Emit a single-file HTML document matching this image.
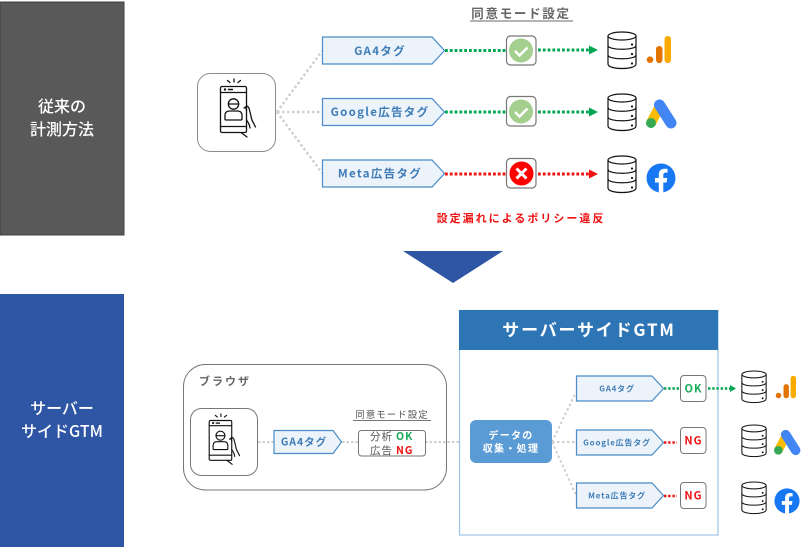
<!DOCTYPE html>
<html><head><meta charset="utf-8"><style>
html,body{margin:0;padding:0;background:#fff;width:811px;height:547px;overflow:hidden}
svg{display:block}
text{font-family:"Noto Sans CJK JP","Liberation Sans",sans-serif;font-weight:700}
</style></head><body>
<svg width="811" height="547" viewBox="0 0 811 547" xmlns="http://www.w3.org/2000/svg">
<defs>
<symbol id="phone" viewBox="0 0 40 60" overflow="visible">
<g fill="none" stroke="#111" stroke-width="1.300" stroke-linecap="round" stroke-linejoin="round">
<path d="M13 3.500l-2.500-2M17 3V0M21 3.500l2.500-2"/>
<rect x="3.500" y="7.500" width="26" height="46" rx="1.500"/>
<path d="M3.500 13.500H29.500M3.500 47.500H29.500"/>
<circle cx="16.500" cy="25" r="5.200"/><path d="M12 25h9"/>
<path d="M8 40v-3.500q0-4.500 4.500-4.500h8q4.500 0 4.500 4.500v3.500q0 1-1 1H9q-1 0-1-1z"/>
<path d="M27 29l3-2q2 1 2.500 4l1.500 6q0.500 4 2.500 7l2 4M29.500 31l-1-3M29.500 41q3 4 3.500 8M24 53.500l6 4.500"/>
</g>
<circle cx="8" cy="10.500" r="1.200" fill="#111"/><path d="M11 10.500h5" stroke="#111" stroke-width="1.500"/>
</symbol>
<symbol id="db" viewBox="0 0 30 39" overflow="visible">
<g fill="#fff" stroke="#111" stroke-width="1.200">
<path d="M1 5v28c0 6 28 6 28 0V5"/>
<ellipse cx="15" cy="5" rx="14" ry="4"/>
<path d="M1 14.500c0 5 28 5 28 0M1 24c0 5 28 5 28 0" fill="none"/>
</g>
<circle cx="25" cy="13.500" r="1.100" fill="#111"/><circle cx="25" cy="23" r="1.100" fill="#111"/><circle cx="25" cy="32.500" r="1.100" fill="#111"/>
</symbol>
<symbol id="ga" viewBox="0 0 24 27" overflow="visible">
<circle cx="3" cy="23.700" r="3.300" fill="#E37400"/>
<rect x="9" y="10" width="6.500" height="17" rx="3.200" fill="#E37400"/>
<rect x="17.500" y="0" width="6.500" height="27" rx="3.200" fill="#F9AB00"/>
</symbol>
<symbol id="ads" viewBox="0 0 30 28" overflow="visible">
<path d="M5 23L14 6" stroke="#FBBC04" stroke-width="10" stroke-linecap="butt"/>
<path d="M13.500 5L25 23" stroke="#4285F4" stroke-width="11" stroke-linecap="round"/>
<circle cx="5" cy="23" r="5" fill="#34A853"/>
</symbol>
<symbol id="fb" viewBox="0 0 30 30" overflow="visible">
<circle cx="15" cy="15" r="14.500" fill="#1877F2"/>
<path d="M12.800 29.500V19.500H9V15h3.800v-3.500c0-3.800 2.300-5.800 5.700-5.800 1.600 0 3 .2 3 .2v3.700h-1.800c-1.900 0-2.400 1.100-2.400 2.300V15h4l-.7 4.500h-3.300v10z" fill="#fff"/>
</symbol>
</defs>

<rect x="0" y="2" width="124" height="233" fill="#595959" stroke="#404040"/>
<rect x="0" y="294" width="124" height="253" fill="#2F55A5"/>
<g fill="#fff" font-size="16" text-anchor="middle">
<text x="62" y="112" style="font-weight:500">従来の</text><text x="62" y="135" style="font-weight:500">計測方法</text>
<text x="62" y="414" style="font-weight:500">サーバー</text><text x="62" y="437" style="font-weight:500">サイドGTM</text>
</g>
<path d="M403 251H503L453 283z" fill="#2F55A5"/>

<!-- top -->
<g stroke="#cfcfcf" stroke-width="2.500" stroke-dasharray="2.500 2.500" fill="none">
<path d="M277 112L322 51M277 112H322M277 112L322 173"/>
</g>
<rect x="197.500" y="73.500" width="78" height="78" rx="13" fill="#fff" stroke="#8c8c8c"/>
<use href="#phone" x="217" y="79" width="40" height="60"/>
<g fill="#EDF3FA" stroke="#4A8CC7" stroke-width="1.200">
<path d="M322.500 37H432L444.500 50.500 432 64H322.500z"/>
<path d="M322.500 98.500H432L444.500 112 432 125.500H322.500z"/>
<path d="M322.500 160H432L444.500 173.500 432 187H322.500z"/>
</g>
<g fill="#3F7DB8" font-size="11.500" text-anchor="middle" letter-spacing="1.300">
<text x="380" y="55">GA4タグ</text><text x="380" y="116">Google広告タグ</text><text x="380" y="177.500">Meta広告タグ</text>
</g>
<g stroke-width="3" stroke-dasharray="2.800 2" fill="none">
<path d="M445 50.500H506M538 50H590M445 112H506M538 112H590" stroke="#00A651"/>
<path d="M445 174H506M538 174H590" stroke="#EE1111"/>
</g>
<path d="M589 45.500L598 50 589 54.500zM589 107.500L598 112 589 116.500z" fill="#00A651"/>
<path d="M589 169.500L598 174 589 178.500z" fill="#EE1111"/>
<g fill="#fff" stroke="#777" stroke-width="1.200">
<rect x="506.500" y="36" width="29.500" height="29" rx="4"/><rect x="506.500" y="96.500" width="29.500" height="29.500" rx="4"/><rect x="506.500" y="158.500" width="29.500" height="29.500" rx="4"/>
</g>
<circle cx="521" cy="50.500" r="12" fill="#A5CF8E"/><circle cx="521" cy="111.500" r="12" fill="#A5CF8E"/><circle cx="521.500" cy="173.500" r="12" fill="#FF0000"/>
<path d="M515 51l4.500 4.500 8-8M515 112l4.500 4.500 8-8" fill="none" stroke="#fff" stroke-width="2.500"/>
<path d="M516.500 168.500l10 10m0-10l-10 10" fill="none" stroke="#fff" stroke-width="3"/>
<text x="521" y="18" text-anchor="middle" font-size="12.500" fill="#666" letter-spacing="1.700">同意モード設定</text>
<path d="M470 21H573" stroke="#888" stroke-width="1.200"/>
<text x="521" y="222" text-anchor="middle" font-size="11" fill="#EE1111" letter-spacing="2">設定漏れによるポリシー違反</text>
<use href="#db" x="607" y="31" width="30" height="39"/>
<use href="#db" x="607" y="93" width="30" height="39"/>
<use href="#db" x="607" y="155" width="30" height="39"/>
<use href="#ga" x="647" y="36" width="24" height="27"/>
<use href="#ads" x="646" y="100" width="30" height="28"/>
<use href="#fb" x="646" y="163" width="30" height="30"/>

<!-- browser -->
<rect x="183.500" y="364.500" width="263" height="125.500" rx="22" fill="#fff" stroke="#777"/>
<text x="199" y="385" font-size="11" fill="#666" letter-spacing="2">ブラウザ</text>
<rect x="190.500" y="408.500" width="67" height="67" rx="11" fill="#fff" stroke="#777"/>
<use href="#phone" x="206" y="414" width="35" height="52"/>
<g stroke="#cfcfcf" stroke-width="2" stroke-dasharray="2.500 2" fill="none">
<path d="M258 442H274M342 442H358M425 442H465"/>
</g>
<path d="M465 438L470 442 465 446z" fill="#cfcfcf"/>
<path d="M274 430.500H333L341.500 442 333 453.500H274z" fill="#EDF3FA" stroke="#4A8CC7" stroke-width="1.200"/>
<text x="304" y="445.500" text-anchor="middle" font-size="10.500" fill="#3F7DB8" letter-spacing="1">GA4タグ</text>
<text x="392" y="418" text-anchor="middle" font-size="9.500" style="font-weight:400" fill="#555" letter-spacing="1">同意モード設定</text>
<path d="M353 420.500H431" stroke="#777"/>
<rect x="358.500" y="430.500" width="67" height="25.500" rx="3" fill="#fff" stroke="#777"/>
<g font-size="10.500" letter-spacing="1">
<text x="370" y="440" fill="#555" style="font-weight:400">分析</text><text x="396" y="440" fill="#1BAA5A">OK</text>
<text x="370" y="454" fill="#555" style="font-weight:400">広告</text><text x="396" y="454" fill="#EE1111">NG</text>
</g>

<!-- server -->
<rect x="459.500" y="310.500" width="258.500" height="224.500" fill="#fff" stroke="#9DC3E6" stroke-width="1.200"/>
<rect x="459" y="310" width="259" height="40" fill="#2E75B6"/>
<text x="589" y="336" text-anchor="middle" font-size="17" fill="#fff" letter-spacing="1.800">サーバーサイドGTM</text>
<g stroke="#cfcfcf" stroke-width="2" stroke-dasharray="2.500 2.500" fill="none">
<path d="M552 442L576 392M552 442H576M552 442L576 495"/>
</g>
<rect x="470" y="420" width="82" height="43" rx="6" fill="#5B9BD5"/>
<g fill="#fff" font-size="10" text-anchor="middle" letter-spacing="1.300">
<text x="511" y="439">データの</text><text x="511" y="452">収集・処理</text>
</g>
<g fill="#EDF3FA" stroke="#4A8CC7" stroke-width="1.200">
<path d="M576.500 376H652L663.500 388.500 652 401H576.500z"/>
<path d="M576.500 430H652L663.500 442.500 652 455H576.500z"/>
<path d="M576.500 483H652L663.500 495.500 652 508H576.500z"/>
</g>
<g fill="#3F7DB8" font-size="8" text-anchor="middle" letter-spacing=".8">
<text x="617" y="391.500">GA4タグ</text><text x="617" y="445.500">Google広告タグ</text><text x="617" y="498.500">Meta広告タグ</text>
</g>
<g stroke-width="2.500" stroke-dasharray="2.400 1.800" fill="none">
<path d="M664 388.500H680M708 388.500H732" stroke="#00A651"/>
<path d="M664 442.500H677M664 496H677" stroke="#EE1111"/>
</g>
<path d="M730 385L736 388.500 730 392z" fill="#00A651"/>
<g fill="#fff" stroke="#777">
<rect x="680.500" y="375.500" width="25.500" height="26" rx="3.500"/>
<rect x="680.500" y="427.500" width="25.500" height="26" rx="3.500"/>
<rect x="680.500" y="482.500" width="25.500" height="26" rx="3.500"/>
</g>
<g font-size="11" text-anchor="middle" letter-spacing="1">
<text x="693.500" y="392.500" fill="#1BAA5A">OK</text>
<text x="693.500" y="444.500" fill="#EE1111">NG</text>
<text x="693.500" y="499.500" fill="#EE1111">NG</text>
</g>
<use href="#db" x="741" y="370" width="26" height="34"/>
<use href="#db" x="741" y="424" width="26" height="34"/>
<use href="#db" x="741" y="481" width="26" height="34"/>
<use href="#ga" x="776" y="375" width="20" height="24"/>
<use href="#ads" x="774" y="430" width="26" height="25"/>
<use href="#fb" x="774" y="488" width="26" height="26"/>
</svg>
</body></html>
